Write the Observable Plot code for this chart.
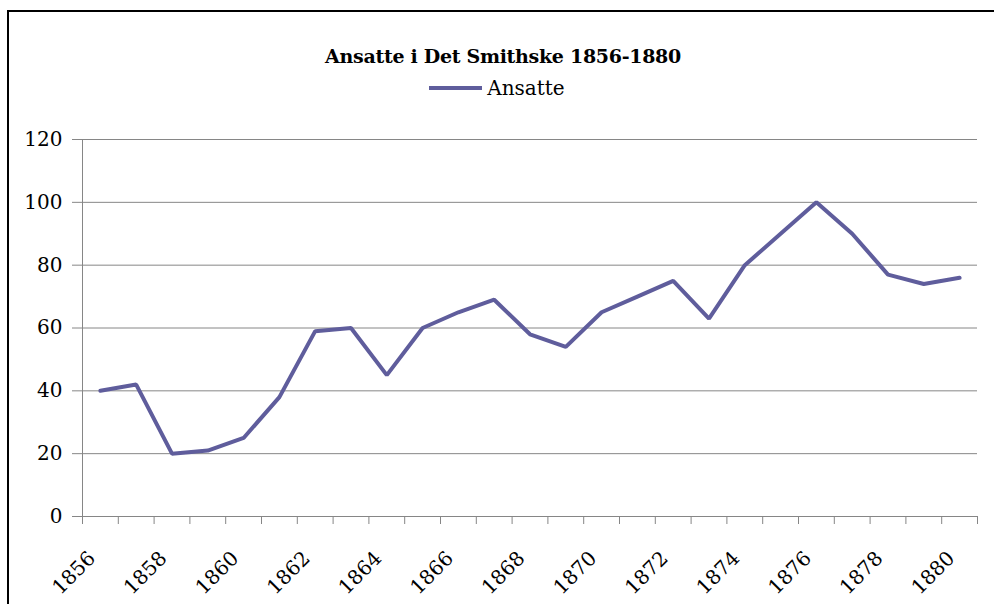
<!DOCTYPE html>
<html><head><meta charset="utf-8">
<script src="https://cdn.jsdelivr.net/npm/d3@7"></script>
<script src="https://cdn.jsdelivr.net/npm/@observablehq/plot@0.6"></script>
<style>
body{margin:0;background:#fff;}
#wrap{position:relative;width:994px;height:604px;overflow:hidden;font-family:'DejaVu Serif',serif;color:#000;}
#frame{position:absolute;left:7px;top:10px;width:1100px;height:700px;border-left:2px solid #000;border-top:2px solid #000;}
#title{position:absolute;top:44px;left:6px;width:994px;text-align:center;font-weight:bold;font-size:19px;line-height:24px;letter-spacing:-0.3px;}
#legend{position:absolute;top:76px;left:0;width:994px;display:flex;justify-content:center;align-items:center;font-size:20px;line-height:24px;}
#legend .sw{display:inline-block;width:53px;height:4px;background:#5f5d9c;margin-right:5px;}
#chart{position:absolute;top:110px;left:0;}
#chart svg text{font-family:'DejaVu Serif',serif;}
</style>
</head><body>
<div id="wrap">
<div id="frame"></div>
<div id="title">Ansatte i Det Smithske 1856-1880</div>
<div id="legend"><span class="sw"></span><span>Ansatte</span></div>
<div id="chart"></div>
</div>
<script>
const years = [1856,1857,1858,1859,1860,1861,1862,1863,1864,1865,1866,1867,1868,1869,1870,1871,1872,1873,1874,1875,1876,1877,1878,1879,1880];
const ansatte = [40,42,20,21,25,38,59,60,45,60,65,69,58,54,65,70,75,63,80,90,100,90,77,74,76];
const yTicks = [0,20,40,60,80,100,120];
const xLabels = [1856,1858,1860,1862,1864,1866,1868,1870,1872,1874,1876,1878,1880];

const data = years.map((year, i) => ({year, value: ansatte[i]}));
const boundaries = years.map(y => y - 0.5).concat([years[years.length - 1] + 0.5]);

const chart = Plot.plot({
  width: 994, height: 494,
  marginLeft: 82, marginRight: 17, marginTop: 29, marginBottom: 88,
  style: {fontFamily: "'DejaVu Serif', serif", fontSize: "20px", color: "#000", background: "transparent"},
  x: {type: "linear", domain: [boundaries[0], boundaries[boundaries.length - 1]]},
  y: {domain: [0, 120]},
  marks: [
    Plot.gridY(yTicks, {stroke: "#868686", strokeOpacity: 1, strokeWidth: 1}),
    Plot.ruleX([boundaries[0]], {stroke: "#868686", strokeWidth: 1}),
    Plot.axisY(yTicks, {tickSize: 10, tickPadding: 10, stroke: "#868686", strokeOpacity: 1, label: null, tickFormat: d => String(d), fill: "#000", fontSize: 20}),
    Plot.axisX(boundaries, {tickSize: 8, tickFormat: () => "", stroke: "#868686", strokeOpacity: 1, label: null}),
    Plot.axisX(xLabels, {tickSize: 0, tickPadding: 33, dx: -14, rotate: -45, textAnchor: "end", label: null, tickFormat: d => String(d), fill: "#000", fontSize: 20}),
    Plot.lineY(data, {x: "year", y: "value", stroke: "#5f5d9c", strokeWidth: 4, strokeLinejoin: "miter"})
  ]
});
document.getElementById("chart").appendChild(chart);
</script>
</body></html>
